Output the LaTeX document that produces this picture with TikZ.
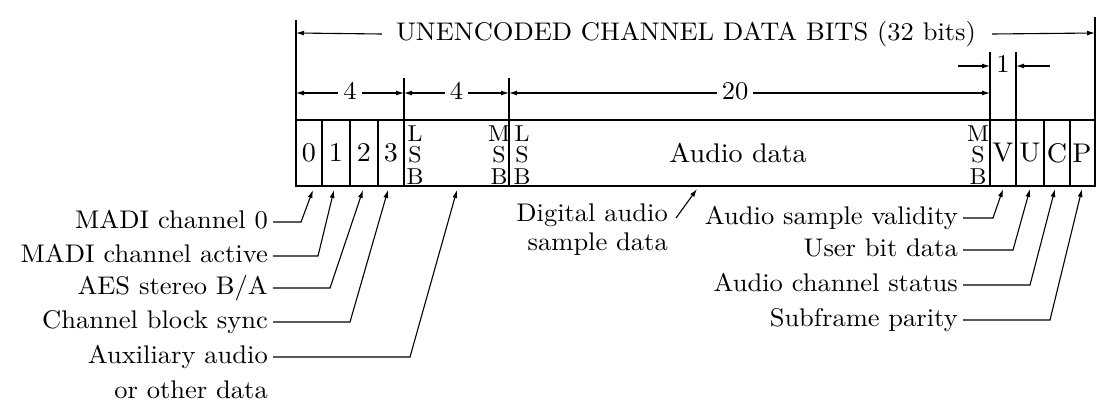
\documentclass[tikz,border=0pt]{standalone}
\usepackage{fontspec}
\setmainfont{lmroman10-regular.otf}[FakeStretch=1.04]
\usetikzlibrary{arrows.meta}
\begin{document}
\begin{tikzpicture}[x=1pt, y=-1pt,
    lbl/.style={font=\fontsize{25.5}{28}\selectfont, inner sep=0pt, text height=18pt, text depth=5pt},
    bitlbl/.style={font=\fontsize{27}{28}\selectfont, inner sep=0pt},
    stack/.style={font=\fontsize{23}{21.5}\selectfont, align=center, inner sep=0pt},
    frame/.style={line width=1.8pt},
    divider/.style={line width=1.1pt},
    leader/.style={line width=1.1pt, -{Latex[length=8pt,width=5pt]}},
    dimline/.style={line width=1.1pt, {Latex[length=8pt,width=5pt]}-{Latex[length=8pt,width=5pt]}},
    onearrow/.style={line width=1.1pt, -{Latex[length=8pt,width=5pt]}}
]
    \useasboundingbox (0,0) rectangle (1113,405);

    % subframe box
    \draw[frame] (296,120) rectangle (1095,186);
    \draw[divider] (322,120) -- (322,186);
    \draw[divider] (350,120) -- (350,186);
    \draw[divider] (378,120) -- (378,186);
    \draw[divider] (404,120) -- (404,186);
    \draw[divider] (509,120) -- (509,186);
    \draw[divider] (990,120) -- (990,186);
    \draw[divider] (1016,120) -- (1016,186);
    \draw[divider] (1044,120) -- (1044,186);
    \draw[divider] (1070,120) -- (1070,186);

    \node[bitlbl] (bit0) at (309,153) {0};
    \node[bitlbl] (bit1) at (336,153) {1};
    \node[bitlbl] (bit2) at (364,153) {2};
    \node[bitlbl] (bit3) at (391,153) {3};
    \node[stack] (auxlsb) at (415,155) {L\\S\\B};
    \node[stack] (auxmsb) at (499,155) {M\\S\\B};
    \node[stack] (audlsb) at (522,155) {L\\S\\B};
    \node[bitlbl] (auddata) at (738,153) {Audio data};
    \node[stack] (audmsb) at (978,155) {M\\S\\B};
    \node[bitlbl] (bitv) at (1003,153) {V};
    \node[bitlbl] (bitu) at (1030,153) {U};
    \node[bitlbl] (bitc) at (1057,153) {C};
    \node[bitlbl] (bitp) at (1082,153) {P};

    % extension lines
    \draw[divider] (296,20) -- (296,120);
    \draw[divider] (404,78) -- (404,120);
    \draw[divider] (509,78) -- (509,120);
    \draw[divider] (990,52) -- (990,120);
    \draw[divider] (1016,52) -- (1016,120);
    \draw[divider] (1095,17) -- (1095,120);

    % dimensions
    \coordinate (topl) at (296,33);
    \coordinate (topr) at (1095,33);
    \node[lbl] (title) at (686,34) {UNENCODED CHANNEL DATA BITS (32 bits)};
    \draw[onearrow] ([xshift=-14pt]title.west) -- (topl);
    \draw[onearrow] ([xshift=16pt]title.east) -- (topr);

    \coordinate (d0) at (296,93);
    \coordinate (d1) at (404,93);
    \coordinate (d2) at (509,93);
    \coordinate (d3) at (990,93);
    \draw[dimline] (d0) -- node[lbl, fill=white, inner xsep=5pt] (nauxa) {4} (d1);
    \draw[dimline] (d1) -- node[lbl, fill=white, inner xsep=5pt] (nauxb) {4} (d2);
    \draw[dimline] (d2) -- node[lbl, fill=white, inner xsep=5pt, pos=0.47] (naud) {20} (d3);

    \node[lbl] (none) at (1003,66) {1};
    \coordinate (vl) at (990,66);
    \coordinate (vr) at (1016,66);
    \draw[onearrow] (958,66) -- (vl);
    \draw[onearrow] (1050,66) -- (vr);

    % left labels
    \node[lbl, anchor=east] (madi0) at (268,222) {MADI channel 0};
    \node[lbl, anchor=east] (madiact) at (268,256) {MADI channel active};
    \node[lbl, anchor=east] (aesba) at (268,288) {AES stereo B/A};
    \node[lbl, anchor=east] (blksync) at (268,322) {Channel block sync};
    \node[lbl, anchor=east] (auxa) at (268,357) {Auxiliary audio};
    \node[lbl, anchor=east] (auxb) at (268,392) {or other data};

    \coordinate (t0) at (313,190);
    \coordinate (t1) at (334,190);
    \coordinate (t2) at (363,190);
    \coordinate (t3) at (388,190);
    \coordinate (t4) at (457,190);
    \draw[leader] ([xshift=5pt]madi0.east) -- (301,222) -- (t0);
    \draw[leader] ([xshift=5pt]madiact.east) -- (318,256) -- (t1);
    \draw[leader] ([xshift=5pt]aesba.east) -- (330,288) -- (t2);
    \draw[leader] ([xshift=5pt]blksync.east) -- (350,322) -- (t3);
    \draw[leader] ([xshift=5pt]auxa.east) -- (410,357) -- (t4);

    % middle label
    \node[lbl, anchor=east] (diga) at (668,215) {Digital audio};
    \node[lbl, anchor=east] (digb) at (668,244) {sample data};
    \coordinate (tdig) at (697,189);
    \draw[leader] ([xshift=8pt,yshift=-3pt]diga.east) -- (tdig);

    % right labels
    \node[lbl, anchor=east] (valid) at (958,218) {Audio sample validity};
    \node[lbl, anchor=east] (userbit) at (958,250) {User bit data};
    \node[lbl, anchor=east] (chstat) at (958,285) {Audio channel status};
    \node[lbl, anchor=east] (parity) at (958,320) {Subframe parity};

    \coordinate (tv) at (1003,189);
    \coordinate (tu) at (1030,189);
    \coordinate (tc) at (1055,189);
    \coordinate (tp) at (1082,189);
    \draw[leader] ([xshift=5pt]valid.east) -- (993,218) -- (tv);
    \draw[leader] ([xshift=5pt]userbit.east) -- (1013,250) -- (tu);
    \draw[leader] ([xshift=5pt]chstat.east) -- (1030,285) -- (tc);
    \draw[leader] ([xshift=5pt]parity.east) -- (1050,320) -- (tp);
\end{tikzpicture}
\end{document}
